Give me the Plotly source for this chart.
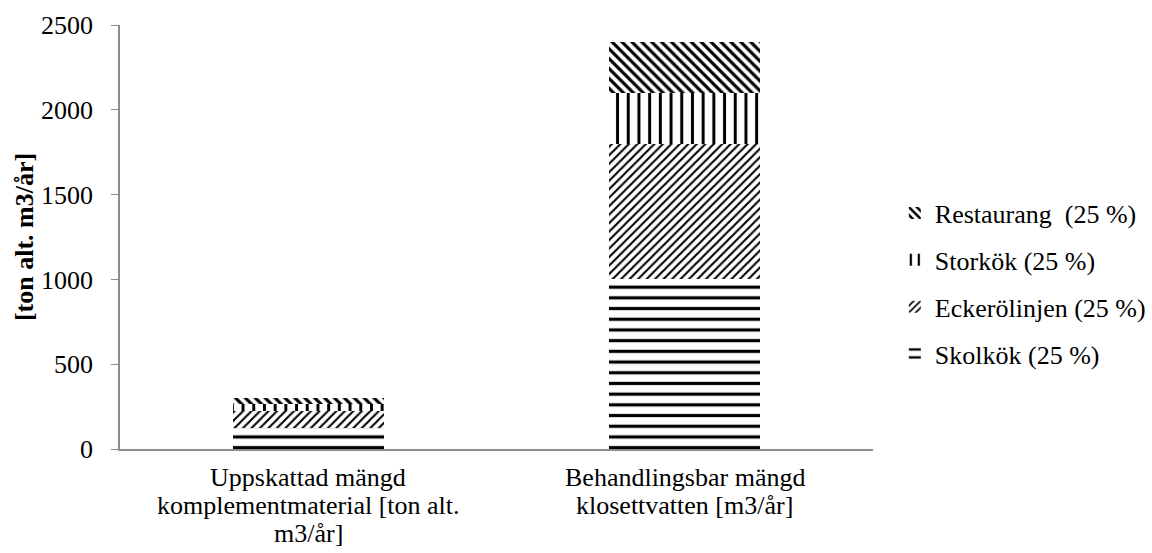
import plotly.graph_objects as go

# Categories on the x axis (each label split into its printed lines)
category_lines = [
    ["Uppskattad mängd", "komplementmaterial [ton alt.", "m3/år]"],
    ["Behandlingsbar mängd", "klosettvatten [m3/år]"],
]
categories = [" ".join(lines) for lines in category_lines]

# Stacked contributions per source
skolkok = [125, 1000]
eckerolinjen = [100, 800]
storkok = [37.5, 300]
restaurang = [37.5, 300]

series_names = [
    "Skolkök (25 %)",
    "Eckerölinjen (25 %)",
    "Storkök (25 %)",
    "Restaurang  (25 %)",
]

y_ticks = [0, 500, 1000, 1500, 2000, 2500]

FONT = "Liberation Serif, Times New Roman, serif"
AXIS_GREY = "#8c8c8c"
FS = 26
LINE_STEP = 28  # px between label lines

patterns = [
    dict(shape="-", size=10.7, solidity=0.3),
    dict(shape="/", size=6, solidity=0.35),
    dict(shape="|", size=10.7, solidity=0.28),
    dict(shape="\\", size=7, solidity=0.45),
]

fig = go.Figure()
for i, (name, vals, pat) in enumerate(zip(series_names,
                                          [skolkok, eckerolinjen, storkok, restaurang],
                                          patterns)):
    fig.add_trace(go.Bar(
        x=categories,
        y=vals,
        name=name,
        legendgroup=f"g{i}",
        legendrank=10 - i,
        marker=dict(
            color="white",
            line=dict(width=0),
            pattern=dict(fgcolor="black", bgcolor="white", fillmode="replace", **pat),
        ),
        width=0.4,
    ))

# Category labels with tight line spacing
for cat, lines in zip(categories, category_lines):
    for k, line in enumerate(lines):
        fig.add_annotation(
            x=cat, xref="x",
            y=0, yref="paper",
            yanchor="middle",
            yshift=-28 - k * LINE_STEP,
            text=line,
            showarrow=False,
            font=dict(family=FONT, size=FS, color="black"),
        )

fig.update_layout(
    barmode="stack",
    width=1152,
    height=553,
    margin=dict(l=120, r=279, t=25, b=104, autoexpand=False),
    paper_bgcolor="white",
    plot_bgcolor="white",
    font=dict(family=FONT, size=FS, color="black"),
    showlegend=True,
    legend=dict(
        x=1.029,
        xanchor="left",
        y=0.39,
        yanchor="middle",
        traceorder="grouped",
        tracegroupgap=10,
        font=dict(family=FONT, size=FS, color="black"),
        itemwidth=30,
        bgcolor="rgba(0,0,0,0)",
    ),
    xaxis=dict(
        showline=True,
        linecolor=AXIS_GREY,
        linewidth=1.5,
        ticks="",
        showgrid=False,
        showticklabels=False,
    ),
    yaxis=dict(
        range=[0, 2500],
        tickvals=y_ticks,
        showline=True,
        linecolor=AXIS_GREY,
        linewidth=1.5,
        ticks="outside",
        ticklen=7,
        tickcolor=AXIS_GREY,
        ticklabelstandoff=13,
        showgrid=False,
        zeroline=False,
        tickfont=dict(family=FONT, size=FS),
        automargin=False,
        title=dict(
            text="<b>[ton alt. m3/år]</b>",
            font=dict(family=FONT, size=FS),
            standoff=0,
        ),
    ),
)

fig.write_html("out.html")
